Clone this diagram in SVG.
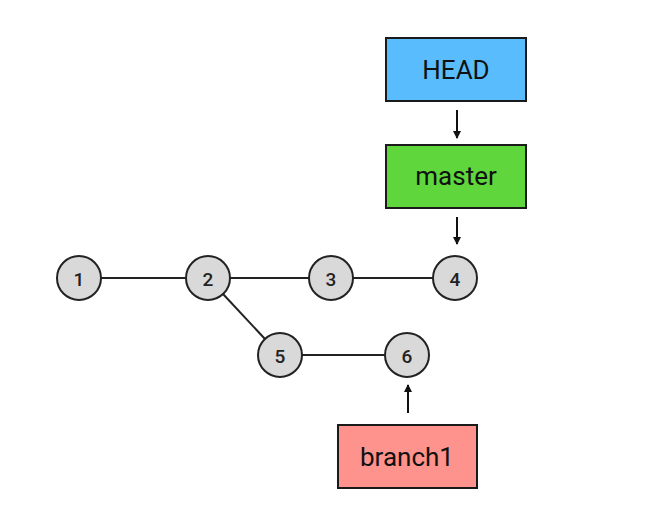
<svg xmlns="http://www.w3.org/2000/svg" width="661" height="510" viewBox="0 0 661 510">
<style>
.box{stroke:#1a1a1a;stroke-width:2}
.lbl{font-family:Roboto,"Liberation Sans",sans-serif;font-size:26px;fill:#111;text-anchor:middle;dominant-baseline:central}
.c{fill:#d9d9d9;stroke:#222;stroke-width:2}
.n{font-family:Roboto,"Liberation Sans",sans-serif;font-size:19px;font-weight:500;fill:#222;text-anchor:middle;dominant-baseline:central}
.e{stroke:#222;stroke-width:2;fill:none}
.a{stroke:#111;stroke-width:2;fill:none;marker-end:url(#ah)}
</style>
<defs>
<marker id="ah" markerWidth="8" markerHeight="8" refX="7" refY="4" orient="auto" markerUnits="userSpaceOnUse">
<path d="M0,0 L8,4 L0,8 Z" fill="#111"/>
</marker>
</defs>
<rect width="661" height="510" fill="#fff"/>
<g id="connectors">
<line class="e" x1="101" y1="278" x2="186" y2="278"/>
<line class="e" x1="230" y1="278" x2="309" y2="278"/>
<line class="e" x1="353" y1="278" x2="433" y2="278"/>
<line class="e" x1="223" y1="294" x2="265" y2="339"/>
<line class="e" x1="302" y1="355" x2="385" y2="355"/>
<line class="a" x1="457" y1="110" x2="457" y2="138"/>
<line class="a" x1="457" y1="217" x2="457" y2="244"/>
<line class="a" x1="408" y1="413" x2="408" y2="385"/>
</g>
<g id="HEAD"><rect class="box" x="386" y="38" width="140" height="63" fill="#59bdfd"/><text class="lbl" x="456" y="70">HEAD</text></g>
<g id="master"><rect class="box" x="386" y="145" width="140" height="63" fill="#5fd63c"/><text class="lbl" x="456" y="176">master</text></g>
<g id="branch1"><rect class="box" x="338" y="425" width="139" height="63" fill="#fe928c"/><text class="lbl" x="407" y="457">branch1</text></g>
<g id="c1"><circle class="c" cx="79" cy="278" r="22"/><text class="n" x="79" y="279">1</text></g>
<g id="c2"><circle class="c" cx="208" cy="278" r="22"/><text class="n" x="208" y="279">2</text></g>
<g id="c3"><circle class="c" cx="331" cy="278" r="22"/><text class="n" x="331" y="279">3</text></g>
<g id="c4"><circle class="c" cx="455" cy="278" r="22"/><text class="n" x="455" y="279">4</text></g>
<g id="c5"><circle class="c" cx="280" cy="355" r="22"/><text class="n" x="280" y="356">5</text></g>
<g id="c6"><circle class="c" cx="407" cy="355" r="22"/><text class="n" x="407" y="356">6</text></g>
</svg>
